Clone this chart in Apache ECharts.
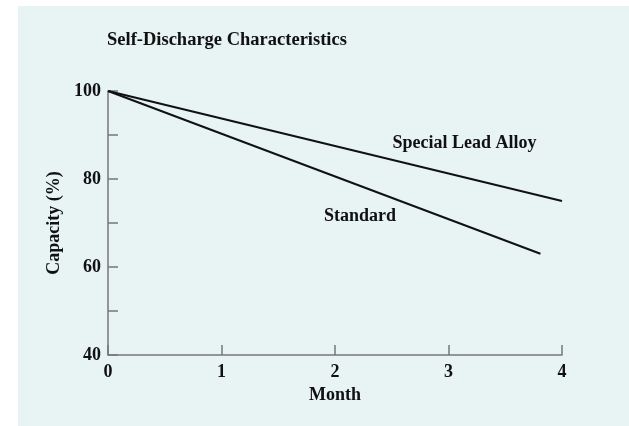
<!DOCTYPE html>
<html>
<head>
<meta charset="utf-8">
<script src="https://cdn.jsdelivr.net/npm/echarts@6/dist/echarts.min.js"></script>
<style>
html,body{margin:0;padding:0;background:#ffffff;}
#wrap{position:absolute;left:0;top:0;width:629px;height:426px;}
#main{width:629px;height:426px;}
</style>
</head>
<body>
<div id="wrap"><div id="main"></div></div>
<script>
const titleText = 'Self-Discharge Characteristics';
const xName = 'Month';
const yName = 'Capacity (%)';
const specialName = 'Special Lead Alloy';
const standardName = 'Standard';
const specialData = [[0, 100], [4, 75]];
const standardData = [[0, 100], [3.81, 63]];
const specialLabelPos = [3.14, 88.2];
const standardLabelPos = [2.22, 71.4];

const FONT = '"Liberation Serif", "DejaVu Serif", serif';
const chart = echarts.init(document.getElementById('main'));
const txt = {fontFamily: FONT, fontWeight: 'bold', fontSize: 18, color: '#111'};

function labelPoint(pos, text) {
  return {
    silent: true,
    symbol: 'circle', symbolSize: 0,
    label: Object.assign({show: true, position: 'inside', formatter: text}, txt),
    data: [{coord: pos}]
  };
}

chart.setOption({
  animation: false,
  backgroundColor: '#ffffff',
  graphic: [{
    type: 'rect', left: 18, top: 6, z: -10,
    shape: {width: 611, height: 420},
    style: {fill: '#e8f4f4'}
  }],
  title: {
    text: titleText, left: 102, top: 26,
    textStyle: {fontFamily: FONT, fontWeight: 'bold', fontSize: 18.5, color: '#111'}
  },
  grid: {left: 108, top: 91, right: 67, bottom: 71},
  xAxis: {
    type: 'value', min: 0, max: 4, interval: 1,
    name: xName, nameLocation: 'middle', nameGap: 31,
    nameTextStyle: txt,
    axisLine: {show: true, lineStyle: {color: '#777', width: 1.5}},
    axisTick: {show: true, inside: true, length: 10, lineStyle: {color: '#777', width: 1.5}},
    axisLabel: Object.assign({margin: 8}, txt),
    splitLine: {show: false}
  },
  yAxis: {
    type: 'value', min: 40, max: 100, interval: 10,
    name: yName, nameLocation: 'middle', nameGap: 39,
    nameTextStyle: txt,
    axisLine: {show: true, lineStyle: {color: '#777', width: 1.5}},
    axisTick: {show: true, inside: true, length: 10, lineStyle: {color: '#777', width: 1.5}},
    axisLabel: Object.assign({margin: 7, formatter: v => (v % 20 === 0 ? String(v) : '')}, txt),
    splitLine: {show: false}
  },
  series: [
    {
      name: specialName, type: 'line', data: specialData,
      symbol: 'none', lineStyle: {color: '#111', width: 2},
      markPoint: labelPoint(specialLabelPos, specialName)
    },
    {
      name: standardName, type: 'line', data: standardData,
      symbol: 'none', lineStyle: {color: '#111', width: 2},
      markPoint: labelPoint(standardLabelPos, standardName)
    }
  ]
});
</script>
</body>
</html>
